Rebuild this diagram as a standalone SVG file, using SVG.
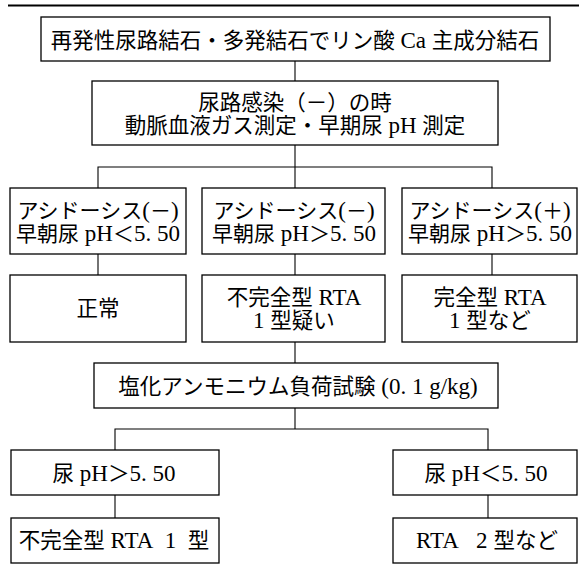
<svg xmlns="http://www.w3.org/2000/svg" width="579" height="569" viewBox="0 0 579 569">
<style>
.box{fill:#fff;stroke:#000;stroke-width:1.3}
.t{font-family:'Liberation Serif','Noto Sans CJK JP',serif;font-size:21.5px;text-anchor:middle;fill:#000}
.s{font-size:21px}
.l{font-size:23px}
.c{fill:none;stroke:#000;stroke-width:1.1}
</style>
<rect x="0" y="0" width="579" height="569" fill="#fff"/>
<line x1="8" y1="5.5" x2="579" y2="5.5" stroke="#000" stroke-width="2"/>
<g id="connectors" class="c">
<line x1="295" y1="61" x2="295" y2="81"/>
<line x1="295" y1="145" x2="295" y2="188"/>
<polyline points="98,188 98,167 492,167 492,188"/>
<line x1="98" y1="254" x2="98" y2="275"/>
<line x1="295" y1="254" x2="295" y2="275"/>
<line x1="492" y1="254" x2="492" y2="275"/>
<line x1="295" y1="342" x2="295" y2="363"/>
<line x1="295" y1="408" x2="295" y2="429"/>
<polyline points="115,450 115,429 488,429 488,450"/>
<line x1="115" y1="495" x2="115" y2="518"/>
<line x1="488" y1="495" x2="488" y2="518"/>
</g>
<g id="n1"><rect class="box" x="41" y="17" width="509" height="44"/><text class="t" x="295" y="48">再発性尿路結石・多発結石でリン酸<tspan class="l"> Ca </tspan>主成分結石</text></g>
<g id="n2"><rect class="box" x="92" y="81" width="406" height="64"/><text class="t" x="295" y="109.5">尿路感染（－）の時</text><text class="t" x="295" y="132.5">動脈血液ガス測定・早期尿<tspan class="l"> pH </tspan>測定</text></g>
<g id="n3a"><rect class="box" x="10" y="188" width="176" height="66"/><text class="t s" x="98" y="217.5">アシドーシス<tspan class="l">(</tspan>－<tspan class="l">)</tspan></text><text class="t s" x="98" y="240.5">早朝尿<tspan class="l"> pH</tspan>＜<tspan class="l">5. 50</tspan></text></g>
<g id="n3b"><rect class="box" x="202" y="188" width="183" height="66"/><text class="t s" x="294" y="217.5">アシドーシス<tspan class="l">(</tspan>－<tspan class="l">)</tspan></text><text class="t s" x="294" y="240.5">早朝尿<tspan class="l"> pH</tspan>＞<tspan class="l">5. 50</tspan></text></g>
<g id="n3c"><rect class="box" x="402" y="188" width="175" height="66"/><text class="t s" x="490" y="217.5">アシドーシス<tspan class="l">(</tspan>＋<tspan class="l">)</tspan></text><text class="t s" x="490" y="240.5">早朝尿<tspan class="l"> pH</tspan>＞<tspan class="l">5. 50</tspan></text></g>
<g id="n4a"><rect class="box" x="10" y="275" width="176" height="67"/><text class="t" x="98" y="316">正常</text></g>
<g id="n4b"><rect class="box" x="202" y="275" width="183" height="67"/><text class="t" x="294" y="305">不完全型<tspan class="l"> RTA</tspan></text><text class="t" x="294" y="328"><tspan class="l">1 </tspan>型疑い</text></g>
<g id="n4c"><rect class="box" x="402" y="275" width="175" height="67"/><text class="t" x="490" y="305">完全型<tspan class="l"> RTA</tspan></text><text class="t" x="490" y="328"><tspan class="l">1 </tspan>型など</text></g>
<g id="n5"><rect class="box" x="94" y="363" width="404" height="45"/><text class="t" x="298" y="394">塩化アンモニウム負荷試験<tspan class="l"> (0. 1 g/kg)</tspan></text></g>
<g id="n6a"><rect class="box" x="11" y="450" width="208" height="45"/><text class="t" x="114" y="481">尿<tspan class="l"> pH</tspan>＞<tspan class="l">5. 50</tspan></text></g>
<g id="n6b"><rect class="box" x="393" y="450" width="184" height="45"/><text class="t" x="486" y="481">尿<tspan class="l"> pH</tspan>＜<tspan class="l">5. 50</tspan></text></g>
<g id="n7a"><rect class="box" x="11" y="518" width="208" height="45"/><text class="t" x="114" y="548">不完全型<tspan class="l"> RTA&#160; 1&#160; </tspan>型</text></g>
<g id="n7b"><rect class="box" x="393" y="518" width="184" height="45"/><text class="t" x="487" y="548"><tspan class="l">RTA&#160;&#160; 2 </tspan>型など</text></g>
</svg>
